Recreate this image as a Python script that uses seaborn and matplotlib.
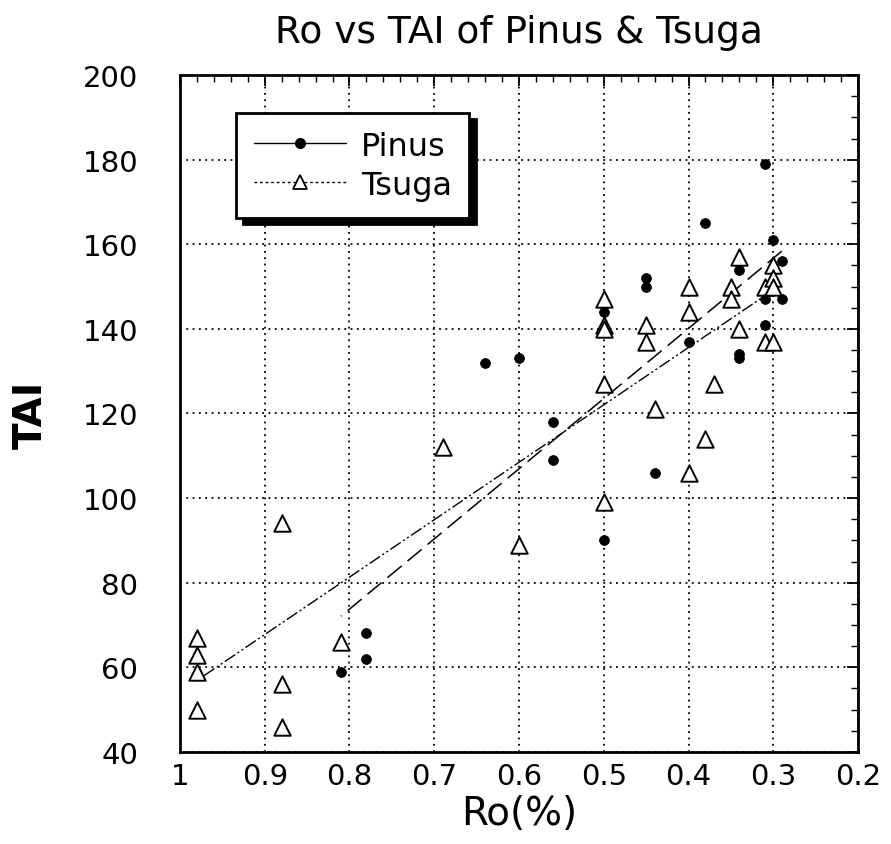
import matplotlib
matplotlib.use("Agg")
import matplotlib.pyplot as plt
import seaborn as sns
import pandas as pd
from matplotlib.lines import Line2D
from matplotlib.ticker import MultipleLocator

# ---- data ----
pinus_ro = [0.81, 0.78, 0.78, 0.64, 0.60, 0.56, 0.56, 0.50, 0.50, 0.45, 0.45,
            0.44, 0.40, 0.38, 0.34, 0.34, 0.34, 0.31, 0.31, 0.31, 0.30, 0.29, 0.29]
pinus_tai = [59, 68, 62, 132, 133, 118, 109, 144, 90, 152, 150,
             106, 137, 165, 154, 134, 133, 179, 147, 141, 161, 156, 147]

tsuga_ro = [0.98, 0.98, 0.98, 0.98, 0.88, 0.88, 0.88, 0.81, 0.69, 0.60,
            0.50, 0.50, 0.50, 0.50, 0.50, 0.45, 0.45, 0.44, 0.40, 0.40, 0.40,
            0.38, 0.37, 0.35, 0.35, 0.34, 0.34, 0.31, 0.31, 0.30, 0.30, 0.30, 0.30]
tsuga_tai = [67, 63, 59, 50, 94, 56, 46, 66, 112, 89,
             147, 141, 140, 127, 99, 141, 137, 121, 150, 144, 106,
             114, 127, 150, 147, 157, 140, 150, 137, 155, 152, 150, 137]

x_ticks = [1.0, 0.9, 0.8, 0.7, 0.6, 0.5, 0.4, 0.3, 0.2]
x_labels = ["1", "0.9", "0.8", "0.7", "0.6", "0.5", "0.4", "0.3", "0.2"]
y_ticks = [40, 60, 80, 100, 120, 140, 160, 180, 200]

pinus = pd.DataFrame({"Ro": pinus_ro, "TAI": pinus_tai})
tsuga = pd.DataFrame({"Ro": tsuga_ro, "TAI": tsuga_tai})

sns.set_style("white")
plt.rcParams["font.family"] = ["DejaVu Sans"]
plt.rcParams["text.color"] = "black"
plt.rcParams["axes.labelcolor"] = "black"
plt.rcParams["axes.titlecolor"] = "black"

fig = plt.figure(figsize=(8.91, 8.45), dpi=100)
ax = fig.add_axes([0.202, 0.109, 0.761, 0.801])

# regression lines
sns.regplot(data=pinus, x="Ro", y="TAI", ax=ax, scatter=False, ci=None,
            color="black", line_kws=dict(lw=1.1, ls=(0, (12, 5))))
sns.regplot(data=tsuga, x="Ro", y="TAI", ax=ax, scatter=False, ci=None,
            color="black", line_kws=dict(lw=1.0, ls=(0, (9, 2, 1.5, 2, 1.5, 2))))

# points
sns.scatterplot(data=pinus, x="Ro", y="TAI", ax=ax, marker="o", s=50,
                color="black", edgecolor="black", zorder=4)
sns.scatterplot(data=tsuga, x="Ro", y="TAI", ax=ax, marker="^", s=140,
                facecolor="white", edgecolor="black", linewidth=1.4, zorder=3)

ax.set_xlim(1.0, 0.2)
ax.set_ylim(40, 200)
ax.set_xticks(x_ticks)
ax.set_xticklabels(x_labels)
ax.set_yticks(y_ticks)
ax.xaxis.set_minor_locator(MultipleLocator(0.02))
ax.yaxis.set_minor_locator(MultipleLocator(5))
ax.tick_params(which="major", direction="in", length=8, width=1.3,
               top=True, right=True, labelsize=21, colors="black")
ax.tick_params(axis="y", which="major", pad=30)
ax.tick_params(axis="x", which="major", pad=7)
ax.tick_params(which="minor", direction="in", length=5, width=1.0,
               top=True, right=True, colors="black")
ax.grid(True, which="major", color="black", ls=(0, (1, 2.5)), lw=1.3)
for sp in ax.spines.values():
    sp.set_linewidth(2)
    sp.set_color("black")

ax.set_xlabel("Ro(%)", fontsize=28, labelpad=3, color="black")
ax.set_ylabel("TAI", fontsize=28, fontweight="bold", labelpad=24, color="black")
ax.set_title("Ro vs TAI of Pinus & Tsuga", fontsize=27, pad=24, color="black")

handles = [
    Line2D([], [], color="black", lw=1, ls="-", marker="o", markersize=7),
    Line2D([], [], color="black", lw=1, ls=(0, (2, 2)), marker="^",
           markersize=10, markerfacecolor="white", markeredgewidth=1.3),
]
leg = ax.legend(handles, ["Pinus", "Tsuga"], loc="upper left",
                bbox_to_anchor=(0.083, 0.944), fontsize=23, frameon=True,
                fancybox=False,
                shadow={"ox": 4.5, "oy": -4.5, "color": "black", "alpha": 1},
                handlelength=2.9, borderpad=0.55, labelspacing=0.25,
                handletextpad=0.45, borderaxespad=0)
for t in leg.get_texts():
    t.set_color("black")
leg.get_frame().set_edgecolor("black")
leg.get_frame().set_linewidth(2)
leg.get_frame().set_alpha(1)

fig.savefig("out.png", dpi=100)
